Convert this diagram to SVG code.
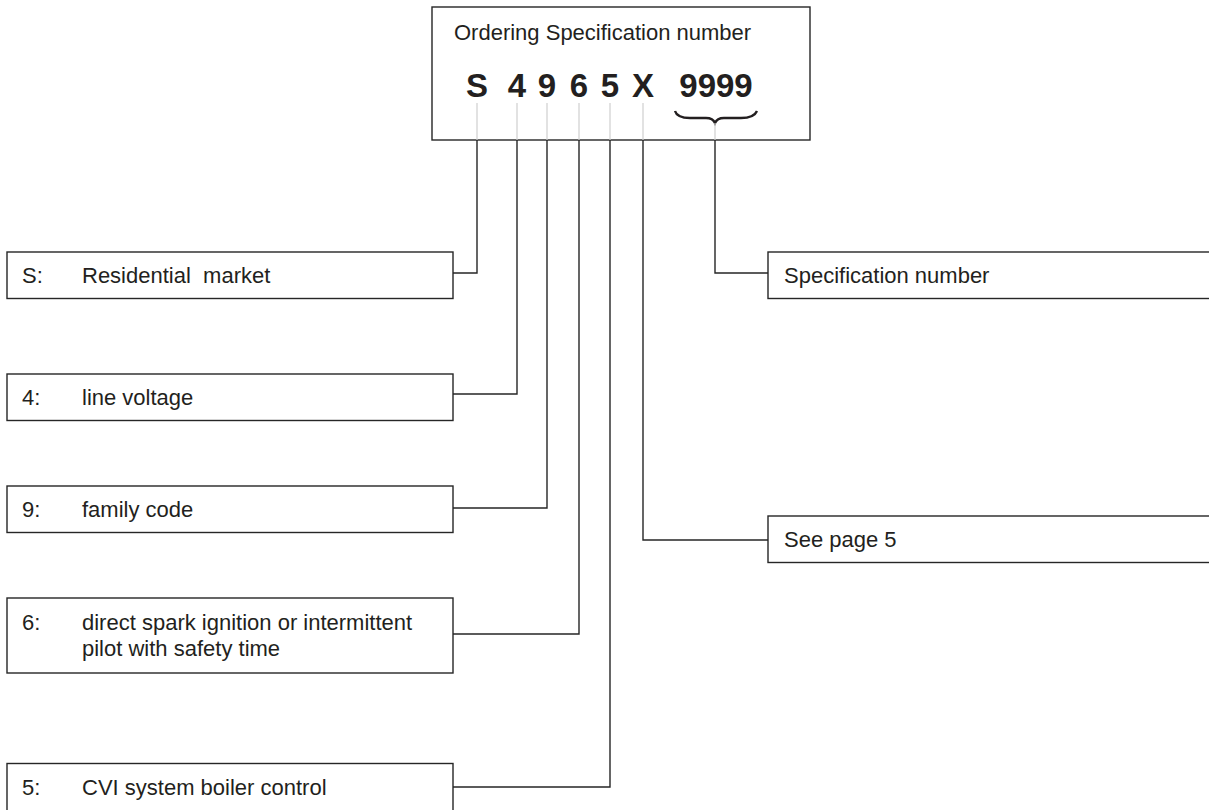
<svg xmlns="http://www.w3.org/2000/svg" width="1209" height="810" viewBox="0 0 1209 810">
<style>
.box{fill:#fff;stroke:#262626;stroke-width:1.4}
.t{font-family:"Liberation Sans",Arial,Helvetica,sans-serif;font-size:22px;fill:#231f20}
.big{font-family:"Liberation Sans",Arial,Helvetica,sans-serif;font-size:33px;font-weight:bold;fill:#231f20;text-anchor:middle}
.guide{stroke:#cfcfcf;stroke-width:1.2;fill:none}
.conn{stroke:#262626;stroke-width:1.4;fill:none}
</style>
<rect width="1209" height="810" fill="#fff"/>
<g id="connectors">
<path class="conn" d="M477,140 V273 H453"/>
<path class="conn" d="M517,140 V394 H453"/>
<path class="conn" d="M547,140 V508 H453"/>
<path class="conn" d="M579,140 V634 H453"/>
<path class="conn" d="M610,140 V787 H453"/>
<path class="conn" d="M643,140 V540 H768"/>
<path class="conn" d="M715,140 V273 H768"/>
</g>
<g id="code-box">
<rect class="box" x="432" y="7" width="378" height="133"/>
<text class="t" x="454" y="40">Ordering Specification number</text>
<text class="big" x="477" y="97">S</text>
<text class="big" x="517" y="97">4</text>
<text class="big" x="547" y="97">9</text>
<text class="big" x="579" y="97">6</text>
<text class="big" x="610" y="97">5</text>
<text class="big" x="643" y="97">X</text>
<text class="big" x="716" y="97">9999</text>
<path d="M675,111 Q677,118 690,118 L706,118 Q713,118 715,123 Q717,118 724,118 L741,118 Q754,118 757,111" fill="none" stroke="#231f20" stroke-width="2.4"/>
<path class="guide" d="M477,103 V140 M517,103 V140 M547,103 V140 M579,103 V140 M610,103 V140 M643,103 V140 M715,123 V140"/>
</g>
<g id="node-S">
<rect class="box" x="7" y="252" width="446" height="46.5"/>
<text class="t" x="22" y="283">S:</text>
<text class="t" x="82" y="283" xml:space="preserve">Residential  market</text>
</g>
<g id="node-4">
<rect class="box" x="7" y="374" width="446" height="46.5"/>
<text class="t" x="22" y="405">4:</text>
<text class="t" x="82" y="405">line voltage</text>
</g>
<g id="node-9">
<rect class="box" x="7" y="486" width="446" height="46.5"/>
<text class="t" x="22" y="517">9:</text>
<text class="t" x="82" y="517">family code</text>
</g>
<g id="node-6">
<rect class="box" x="7" y="598" width="446" height="75"/>
<text class="t" x="22" y="630">6:</text>
<text class="t" x="82" y="630">direct spark ignition or intermittent</text>
<text class="t" x="82" y="656">pilot with safety time</text>
</g>
<g id="node-5">
<rect class="box" x="7" y="763.5" width="446" height="60"/>
<text class="t" x="22" y="795">5:</text>
<text class="t" x="82" y="795">CVI system boiler control</text>
</g>
<g id="node-spec">
<rect class="box" x="768" y="252" width="460" height="46.5"/>
<text class="t" x="784" y="283">Specification number</text>
</g>
<g id="node-page">
<rect class="box" x="768" y="516" width="460" height="46.5"/>
<text class="t" x="784" y="547">See page 5</text>
</g>
</svg>
